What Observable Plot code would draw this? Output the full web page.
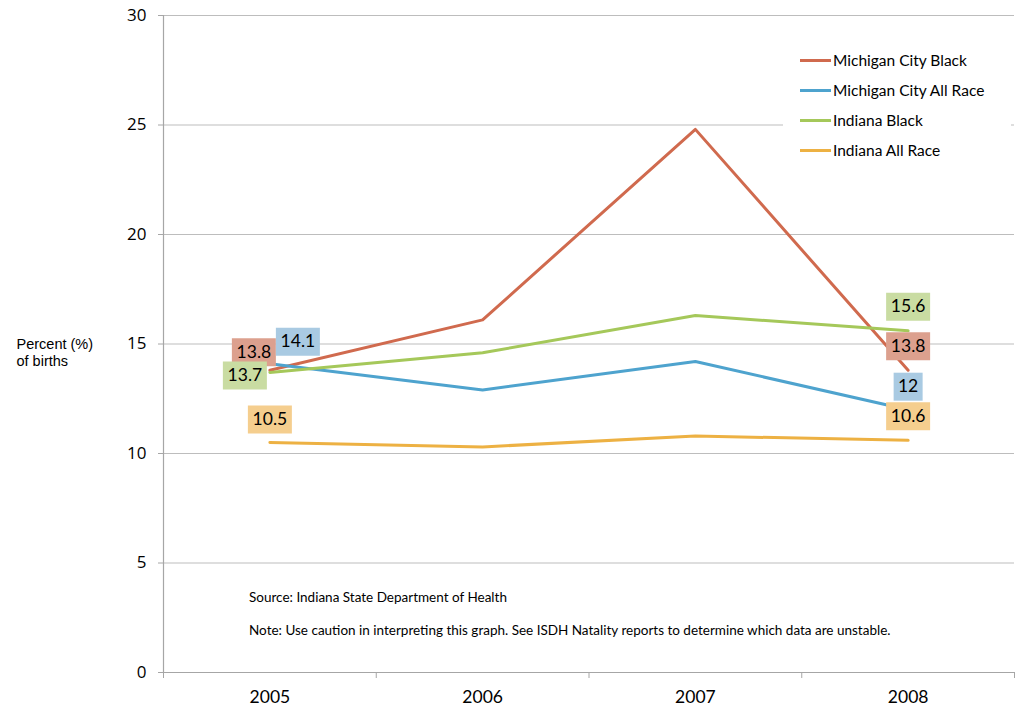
<!DOCTYPE html>
<html>
<head>
<meta charset="utf-8">
<script src="https://cdn.jsdelivr.net/npm/d3@7"></script>
<script src="https://cdn.jsdelivr.net/npm/@observablehq/plot@0.6"></script>
<style>
  body { margin: 0; background: #fff; }
  #wrap { position: relative; width: 1016px; height: 709px; font-family: Lato, "Open Sans", sans-serif; }
  #wrap svg { position: absolute; left: 0; top: 0; }
  .legend { position: absolute; left: 783px; top: 42px; width: 228px; height: 124px; background: #fff; }
  .legend .row { position: absolute; left: 0; height: 20px; display: flex; align-items: center; font-size: 15.5px; color: #000; }
  .legend .sw { width: 31px; height: 3px; margin-left: 17px; margin-right: 2px; }
  .note { position: absolute; left: 249px; font-size: 13.5px; color: #000; }
</style>
</head>
<body>
<div id="wrap"></div>
<script>
// ---- data ----
const years = [2005, 2006, 2007, 2008];
const seriesNames = ["Michigan City Black", "Michigan City All Race", "Indiana Black", "Indiana All Race"];
const michiganCityBlack   = [13.8, 16.1, 24.8, 13.8];
const michiganCityAllRace = [14.1, 12.9, 14.2, 12.0];
const indianaBlack        = [13.7, 14.6, 16.3, 15.6];
const indianaAllRace      = [10.5, 10.3, 10.8, 10.6];
const yTicks = [0, 5, 10, 15, 20, 25, 30];
const yAxisLabel = ["Percent (%)", "of births"];
const sourceText = "Source: Indiana State Department of Health";
const noteText = "Note: Use caution in interpreting this graph. See ISDH Natality reports to determine which data are unstable.";

// ---- styles ----
const lineColors = ["#D06A4E", "#4EA3CE", "#A5C85A", "#EDB143"];
const boxColors  = ["#DCA08E", "#A9CAE2", "#C9DCA2", "#F5CE8E"];
const labelFont = 17.5;
// label offsets (px) for first and last point of each series
const startOffsets = [[-16, -18], [28, -22], [-25, 3], [0, -23]];
const endOffsets   = [[0, -24], [0, -23], [0, -24], [0, -24]];

const allSeries = [michiganCityBlack, michiganCityAllRace, indianaBlack, indianaAllRace];
const rows = [];
allSeries.forEach((vals, si) => vals.forEach((v, i) => rows.push({series: seriesNames[si], year: years[i], value: v})));

const boundaries = years.map(y => y - 0.5).concat([years[years.length - 1] + 0.5]);
const xDomain = [boundaries[0], boundaries[boundaries.length - 1]];

// measure label widths for the background boxes
const ctx = document.createElement("canvas").getContext("2d");
ctx.font = `${labelFont}px Lato`;
const fmt = v => Number.isInteger(v) ? String(v) : v.toFixed(1);
const boxSymbol = (w, h) => ({draw(c) { c.rect(-w / 2, -h / 2, w, h); }});

const marks = [
  Plot.gridY(yTicks, {stroke: "#bdbdbd", strokeOpacity: 1, strokeWidth: 1}),
  Plot.ruleX([xDomain[0]], {stroke: "#a6a6a6", strokeWidth: 1.2}),
  Plot.ruleY([0], {stroke: "#a6a6a6", strokeWidth: 1.2}),
  Plot.axisY({ticks: yTicks, tickSize: 5, tickPadding: 12, fontSize: 17, label: null, stroke: "#a6a6a6", fill: "#000", fontFamily: "Open Sans"}),
  Plot.axisX({ticks: boundaries, tickSize: 6, tickFormat: () => "", label: null, stroke: "#a6a6a6"}),
  Plot.axisX({ticks: years, tickSize: 0, tickPadding: 18, tickFormat: d => String(d), label: null, fontSize: 17.5, fill: "#000"}),
  Plot.text([yAxisLabel.join("\n")], {
    frameAnchor: "left", textAnchor: "start", dx: -147, dy: 8,
    fontSize: 14.5, lineHeight: 1.17, fontFamily: "Liberation Sans", fill: "#000"
  })
];

seriesNames.forEach((name, si) => {
  marks.push(Plot.line(rows.filter(r => r.series === name), {x: "year", y: "value", stroke: lineColors[si], strokeWidth: 3}));
});

seriesNames.forEach((name, si) => {
  const sr = rows.filter(r => r.series === name);
  [[sr[0], startOffsets[si]], [sr[sr.length - 1], endOffsets[si]]].forEach(([d, off]) => {
    const w = Math.round(ctx.measureText(fmt(d.value)).width) + 9;
    marks.push(Plot.dot([d], {
      x: "year", y: "value", dx: off[0], dy: off[1],
      symbol: boxSymbol(w, 28), r: 10, fill: boxColors[si], stroke: "none"
    }));
    marks.push(Plot.text([d], {
      x: "year", y: "value", text: r => fmt(r.value),
      dx: off[0], dy: off[1], fontSize: labelFont, fill: "#000"
    }));
  });
});

const chart = Plot.plot({
  width: 1016,
  height: 709,
  marginLeft: 163,
  marginRight: 2,
  marginTop: 15,
  marginBottom: 37,
  style: {fontFamily: "Lato, 'Open Sans', sans-serif", background: "#fff", color: "#000"},
  x: {domain: xDomain},
  y: {domain: [0, 30]},
  marks
});

const wrap = document.getElementById("wrap");
wrap.appendChild(chart);

// legend
const lg = document.createElement("div");
lg.className = "legend";
seriesNames.forEach((name, si) => {
  const row = document.createElement("div");
  row.className = "row";
  row.style.top = (8 + si * 30) + "px";
  row.innerHTML = `<span class="sw" style="background:${lineColors[si]}"></span><span>${name}</span>`;
  lg.appendChild(row);
});
wrap.appendChild(lg);

// source & note
[[sourceText, 589], [noteText, 622]].forEach(([txt, top]) => {
  const n = document.createElement("div");
  n.className = "note";
  n.style.top = top + "px";
  n.textContent = txt;
  wrap.appendChild(n);
});
</script>
</body>
</html>
